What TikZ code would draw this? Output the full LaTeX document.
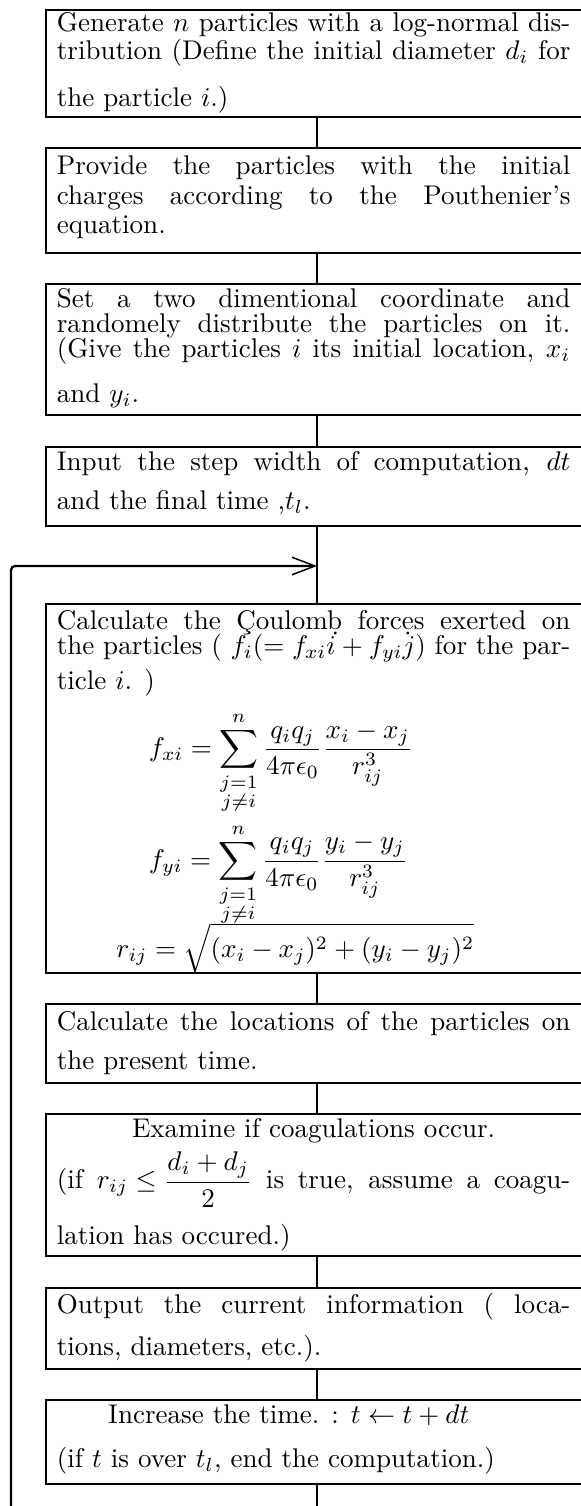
\documentclass[tikz,border=0pt]{standalone}
\usepackage{amsmath,amssymb}
\usetikzlibrary{arrows.meta}
\newcommand{\px}{0.37pt}
\newcommand{\bxt}[2][11pt]{\hspace*{4.1pt}\parbox[t]{190pt}{\fontsize{10}{#1}\selectfont
  \lineskiplimit=-\maxdimen\thickmuskip=5mu\medmuskip=4mu\relax #2}\hspace*{7.6pt}}
\begin{document}
\begin{tikzpicture}[x=0.37pt,y=-0.37pt,
  box/.style={draw, line width=0.6pt, anchor=north west, inner xsep=0pt, inner ysep=0pt, minimum width=201.7pt},
  conn/.style={line width=0.6pt},
  loop/.style={line width=0.85pt, rounded corners=1.5pt, -{Straight Barb[length=8.5pt,width=6.5pt,line width=0.55pt]}}]
\useasboundingbox (0,0) rectangle (581,1506);
\clip (0,0) rectangle (581,1506);
\coordinate (cx) at (317,0);
\node[box, text height=22*\px, text depth=85*\px] (b1) at (45,9) {\bxt[10.36pt]{Generate $n$ particles with a log-normal dis-\linebreak tribution (Define the initial diameter $d_i$ for\vspace{7pt}\linebreak the particle $i$.)}};
\node[box, text height=27*\px, text depth=78*\px] (b2) at (45,147) {\bxt[10.9pt]{Provide the particles with the initial\linebreak charges according to the Pouthenier's\linebreak equation.}};
\node[box, text height=24*\px, text depth=107*\px] (b3) at (45,283) {\bxt[9.2pt]{Set a two dimentional coordinate and\linebreak randomely distribute the particles on it.\linebreak (Give the particles $i$ its initial location, $x_i$\vspace{7.4pt}\linebreak and $y_i$.}};
\node[box, text height=24*\px, text depth=55*\px] (b4) at (45,446) {\bxt[14.43pt]{Input the step width of computation, $dt$\linebreak and the final time ,$t_l$.}};
\node[box, text height=26*\px, text depth=343*\px] (b5) at (45,603) {\bxt[9pt]{Calculate the \c{C}oulom\d{b} forc\d{e}s exerted on\linebreak the particles ( $f_i(=f_{xi}i+f_{yi}j)$ for the par-\vspace{4pt}\linebreak ticle $i$. )\par\vspace{15.8pt}
\hspace*{34pt}$\displaystyle f_{xi}=\sum_{\substack{j=1\\ j\neq i}}^{n}\frac{q_iq_j}{4\pi\epsilon_0}\frac{x_i-x_j}{r_{ij}^3}$\par\vspace{32.4pt}
\hspace*{34pt}$\displaystyle f_{yi}=\sum_{\substack{j=1\\ j\neq i}}^{n}\frac{q_iq_j}{4\pi\epsilon_0}\frac{y_i-y_j}{r_{ij}^3}$\par\vspace{23.9pt}
\hspace*{22pt}$\displaystyle r_{ij}=\sqrt{(x_i-x_j)^2+(y_i-y_j)^2}$}};
\node[box, text height=27*\px, text depth=52*\px] (b6) at (45,1003) {\bxt[14.43pt]{Calculate the locations of the particles on\linebreak the present time.}};
\node[box, text height=24*\px, text depth=118*\px] (b7) at (45,1113) {\bxt[18.87pt]{\centerline{Examine if coagulations occur.}\par
(if $r_{ij}\le\dfrac{d_i+d_j}{2}$ is true, assume a coagu-\vspace{1.9pt}\linebreak lation has occured.)}};
\node[box, text height=26*\px, text depth=55*\px] (b8) at (45,1287) {\bxt[15.54pt]{Output the current information ( loca-\linebreak tions, diameters, etc.).}};
\node[box, text height=24*\px, text depth=60*\px] (b9) at (45,1399) {\bxt[16.28pt]{\hspace*{19pt}Increase the time. : $t\leftarrow t+dt$\par (if $t$ is over $t_l$, end the computation.)}};
\coordinate (join) at (317,566);
\coordinate (rb) at (317,1560);
\coordinate (lb) at (11,1560);
\draw[conn] (b1.south -| cx) -- (b2.north -| cx);
\draw[conn] (b2.south -| cx) -- (b3.north -| cx);
\draw[conn] (b3.south -| cx) -- (b4.north -| cx);
\draw[conn] (b4.south -| cx) -- (b5.north -| cx);
\draw[conn] (b5.south -| cx) -- (b6.north -| cx);
\draw[conn] (b6.south -| cx) -- (b7.north -| cx);
\draw[conn] (b7.south -| cx) -- (b8.north -| cx);
\draw[conn] (b8.south -| cx) -- (b9.north -| cx);
\draw[conn] (b9.south -| cx) -- (rb) -- (lb);
\draw[loop] (lb) |- (join);
\end{tikzpicture}
\end{document}
